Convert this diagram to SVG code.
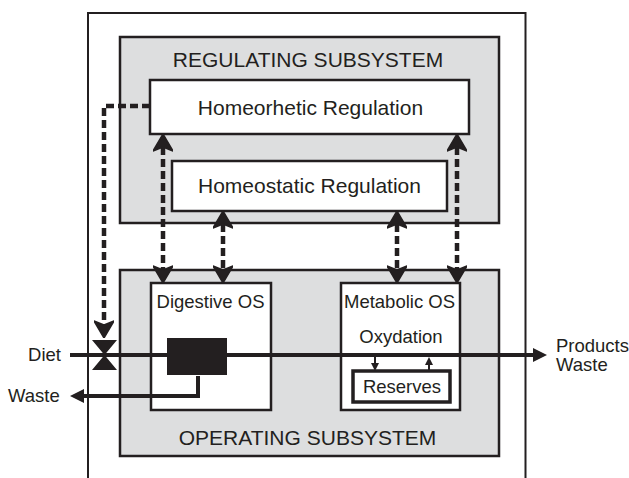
<svg xmlns="http://www.w3.org/2000/svg" width="629" height="478" viewBox="0 0 629 478">
<style>
.box{fill:#fff;stroke:#231f20;stroke-width:2.5}
.sub{fill:#dddedf;stroke:#231f20;stroke-width:2.5}
text{font-family:"Liberation Sans",Arial,sans-serif;fill:#231f20}
.big{font-size:21px;text-anchor:middle}
.sm{font-size:18.5px}
.mid{text-anchor:middle}
.dash{fill:none;stroke:#231f20;stroke-width:4.5;stroke-dasharray:8 4}
.flow{fill:none;stroke:#231f20;stroke-width:4}
.thin{fill:none;stroke:#231f20;stroke-width:2}
.fill{fill:#231f20}
</style>
<defs>
<marker id="ah" viewBox="0 0 18 20" refX="5" refY="10" markerWidth="18" markerHeight="20" markerUnits="userSpaceOnUse" orient="auto-start-reverse">
<path d="M18,10 L1,0 L5,10 L1,20 Z" fill="#231f20" stroke="#231f20" stroke-width="1.5" stroke-linejoin="round"/>
</marker>
</defs>
<g id="system">
<path d="M88,478 V13 H525.5 V478" fill="none" stroke="#231f20" stroke-width="2"/>
</g>
<g id="regulating">
<rect class="sub" x="120" y="37" width="379" height="186"/>
<text class="big" x="308" y="67">REGULATING SUBSYSTEM</text>
</g>
<g id="homeorhetic">
<rect class="box" x="150" y="80" width="319" height="54"/>
<text class="big" x="310.5" y="115">Homeorhetic Regulation</text>
</g>
<g id="homeostatic">
<rect class="box" x="172" y="161" width="275" height="50"/>
<text class="big" x="309.5" y="193">Homeostatic Regulation</text>
</g>
<g id="operating">
<rect class="sub" x="120" y="270" width="379" height="186"/>
<text class="big" x="307.5" y="445">OPERATING SUBSYSTEM</text>
</g>
<g id="digestive">
<rect class="box" x="151" y="283" width="120" height="127"/>
<text class="sm mid" x="210.5" y="308">Digestive OS</text>
</g>
<g id="metabolic">
<rect class="box" x="341" y="283" width="119" height="127"/>
<text class="sm mid" x="399.5" y="308">Metabolic OS</text>
<text class="sm mid" x="401" y="343">Oxydation</text>
</g>
<g id="reserves">
<rect x="353" y="371" width="97" height="31" fill="#fff" stroke="#231f20" stroke-width="3.5"/>
<text class="sm mid" x="402" y="393">Reserves</text>
</g>
<g id="labels">
<text class="sm" x="61" y="361" text-anchor="end">Diet</text>
<text class="sm" x="8" y="402">Waste</text>
<text class="sm" x="556" y="352">Products</text>
<text class="sm" x="556" y="371">Waste</text>
</g>
<g id="connectors">
<path class="dash" d="M150,106 H104 V325" marker-end="url(#ah)"/>
<path class="dash" d="M163,147 V270" marker-start="url(#ah)" marker-end="url(#ah)"/>
<path class="dash" d="M223,224 V270" marker-start="url(#ah)" marker-end="url(#ah)"/>
<path class="dash" d="M397,224 V270" marker-start="url(#ah)" marker-end="url(#ah)"/>
<path class="dash" d="M457,147 V270" marker-start="url(#ah)" marker-end="url(#ah)"/>
<path class="flow" d="M70,355 H534"/>
<polygon class="fill" points="533,348 547,355 533,362"/>
<path class="flow" d="M198,376 V396 H83"/>
<polygon class="fill" points="84,389 70,396 84,403"/>
<path class="thin" d="M375,357 V364"/>
<polygon class="fill" points="371,363 379,363 375,371"/>
<path class="thin" d="M429,364 V370"/>
<polygon class="fill" points="425,365 433,365 429,357"/>
</g>
<g id="digester">
<rect class="fill" x="167" y="338" width="60" height="37"/>
</g>
<g id="valve">
<path class="fill" d="M92,340 H117 L104.5,355 L117,370 H92 L104.5,355 Z"/>
</g>
</svg>
